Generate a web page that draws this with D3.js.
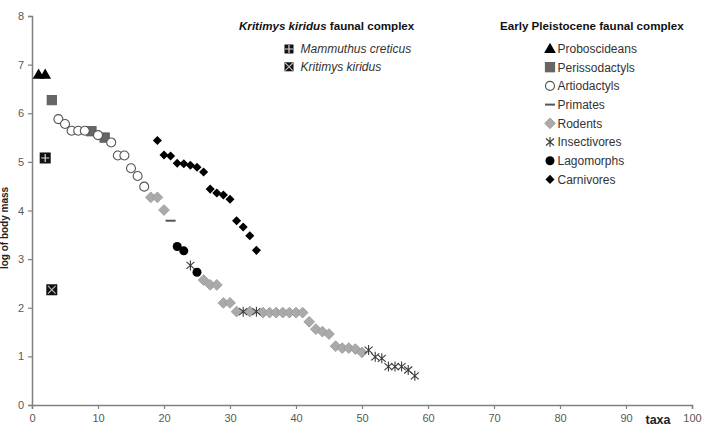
<!DOCTYPE html>
<html><head><meta charset="utf-8">
<script src="https://cdn.jsdelivr.net/npm/d3@7"></script>
<style>body{margin:0;background:#fff;} svg{display:block;font-family:"Liberation Sans",Arial,sans-serif;}</style>
</head><body><svg id="c" width="702" height="431"></svg>
<script>
// ---- data ----
const proboscX = [1, 2];
const proboscY = [6.8, 6.8];
const perissoX = [3, 9, 11];
const perissoY = [6.27, 5.63, 5.5];
const artioX = [4, 5, 6, 7, 8, 10, 12, 13, 14, 15, 16, 17];
const artioY = [5.88, 5.78, 5.64, 5.64, 5.64, 5.55, 5.4, 5.13, 5.13, 4.87, 4.71, 4.49];
const primatesX = [21];
const primatesY = [3.79];
const rodentsX = [18, 19, 20, 26, 27, 28, 29, 30, 31, 33, 35, 36, 37, 38, 39, 40, 41, 42, 43, 44, 45, 46, 47, 48, 49, 50];
const rodentsY = [4.27, 4.27, 4.01, 2.57, 2.47, 2.47, 2.1, 2.1, 1.92, 1.92, 1.9, 1.9, 1.9, 1.9, 1.9, 1.9, 1.9, 1.71, 1.56, 1.51, 1.46, 1.21, 1.17, 1.17, 1.15, 1.08];
const insectX = [24, 32, 34, 51, 52, 53, 54, 55, 56, 57, 58];
const insectY = [2.87, 1.92, 1.92, 1.13, 0.99, 0.96, 0.79, 0.79, 0.79, 0.72, 0.6];
const lagoX = [22, 23, 25];
const lagoY = [3.26, 3.17, 2.73];
const carnX = [19, 20, 21, 22, 23, 24, 25, 26, 27, 28, 29, 30, 31, 32, 33, 34];
const carnY = [5.44, 5.14, 5.12, 4.97, 4.96, 4.93, 4.89, 4.79, 4.44, 4.36, 4.32, 4.23, 3.79, 3.66, 3.48, 3.18];
const mammuthusX = [2];
const mammuthusY = [5.08];
const kritimysX = [3];
const kritimysY = [2.37];
const xTicks = [0, 10, 20, 30, 40, 50, 60, 70, 80, 90, 100];
const yTicks = [0, 1, 2, 3, 4, 5, 6, 7, 8];
const kkTitleItalic = "Kritimys kiridus";
const kkTitleRest = " faunal complex";
const kkLabels = ["Mammuthus creticus", "Kritimys kiridus"];
const epTitle = "Early Pleistocene faunal complex";
const epLabels = ["Proboscideans", "Perissodactyls", "Artiodactyls", "Primates", "Rodents", "Insectivores", "Lagomorphs", "Carnivores"];

// ---- chart ----
const svg = d3.select("#c");
const x = d3.scaleLinear().domain([0, 100]).range([32, 692]);
const y = d3.scaleLinear().domain([0, 8]).range([405, 16]);
const axisColor = "#808080", tickText = "#595959";

const xa = svg.append("g").attr("transform", "translate(0,405)")
  .call(d3.axisBottom(x).tickValues(xTicks).tickSize(4).tickPadding(5));
const ya = svg.append("g").attr("transform", "translate(32,0)")
  .call(d3.axisLeft(y).tickValues(yTicks).tickSize(4).tickPadding(4));
[xa, ya].forEach(g => {
  g.select(".domain").attr("stroke", axisColor).attr("stroke-width", 1.5);
  g.selectAll(".tick line").attr("stroke", axisColor).attr("stroke-width", 1.2);
  g.selectAll(".tick text").attr("fill", tickText).attr("font-size", 11)
    .attr("font-family", "Liberation Sans, Arial, sans-serif");
});

svg.append("text").attr("transform", "translate(8,228) rotate(-90)")
  .attr("text-anchor", "middle").attr("font-size", 10).attr("font-weight", "bold")
  .attr("fill", "#222").text("log of body mass");
svg.append("text").attr("x", 658).attr("y", 424).attr("text-anchor", "middle")
  .attr("font-size", 12.5).attr("font-weight", "bold").attr("fill", "#222").text("taxa");

const zip = (xs, ys) => xs.map((v, i) => [v, ys[i]]);

const drawers = {
  triangle: (g) => g.append("path").attr("d", d3.symbol(d3.symbolTriangle, 60)()).attr("fill", "#000").attr("transform", "translate(0,1)"),
  perisso: (g) => g.append("rect").attr("x", -4.7).attr("y", -4.7).attr("width", 9.4).attr("height", 9.4).attr("fill", "#666").attr("stroke", "#555").attr("stroke-width", 0.8),
  artio: (g) => g.append("circle").attr("r", 4.5).attr("fill", "#fff").attr("stroke", "#555").attr("stroke-width", 1.1),
  primate: (g) => g.append("line").attr("x1", -5).attr("x2", 5).attr("stroke", "#555").attr("stroke-width", 2),
  rodent: (g) => g.append("rect").attr("x", -3.8).attr("y", -3.8).attr("width", 7.6).attr("height", 7.6).attr("transform", "rotate(45)").attr("fill", "#aaa").attr("stroke", "#999").attr("stroke-width", 0.8),
  insect: (g) => g.append("path").attr("d", "M0,-5V5M-4,-3.5L4,3.5M-4,3.5L4,-3.5").attr("stroke", "#3a3a3a").attr("stroke-width", 1.1).attr("fill", "none"),
  lago: (g) => g.append("circle").attr("r", 4.5).attr("fill", "#000"),
  carn: (g) => g.append("rect").attr("x", -3.2).attr("y", -3.2).attr("width", 6.4).attr("height", 6.4).attr("transform", "rotate(45)").attr("fill", "#000"),
  mammuthus: (g) => { g.append("rect").attr("x", -5.5).attr("y", -5.5).attr("width", 11).attr("height", 11).attr("fill", "#111");
    g.append("path").attr("d", "M0,-4V4M-4,0H4").attr("stroke", "#ddd").attr("stroke-width", 1.2); },
  kritimys: (g) => { g.append("rect").attr("x", -5.5).attr("y", -5.5).attr("width", 11).attr("height", 11).attr("fill", "#111");
    g.append("path").attr("d", "M-3.8,-3.8L3.8,3.8M-3.8,3.8L3.8,-3.8").attr("stroke", "#bbb").attr("stroke-width", 1.1); }
};

function plot(xs, ys, kind) {
  svg.append("g").selectAll("g").data(zip(xs, ys)).join("g")
    .attr("transform", d => `translate(${x(d[0])},${y(d[1])})`)
    .each(function () { drawers[kind](d3.select(this)); });
}
plot(rodentsX, rodentsY, "rodent");
plot(perissoX, perissoY, "perisso");
plot(artioX, artioY, "artio");
plot(proboscX, proboscY, "triangle");
plot(primatesX, primatesY, "primate");
plot(insectX, insectY, "insect");
plot(lagoX, lagoY, "lago");
plot(carnX, carnY, "carn");
plot(mammuthusX, mammuthusY, "mammuthus");
plot(kritimysX, kritimysY, "kritimys");

// ---- legends ----
const t1 = svg.append("text").attr("x", 239).attr("y", 30).attr("font-size", 11.6).attr("font-weight", "bold").attr("fill", "#111");
t1.append("tspan").attr("font-style", "italic").text(kkTitleItalic);
t1.append("tspan").text(kkTitleRest);
const kkKinds = ["mammuthus", "kritimys"];
kkLabels.forEach((lab, i) => {
  const cy = 49 + i * 17.8;
  const g = svg.append("g").attr("transform", `translate(289,${cy})`);
  drawers[kkKinds[i]](g);
  g.selectAll("rect").attr("x", -4.5).attr("y", -4.5).attr("width", 9).attr("height", 9);
  svg.append("text").attr("x", 300.5).attr("y", cy + 4.3).attr("font-size", 12).attr("font-style", "italic").attr("fill", "#333").text(lab);
});

svg.append("text").attr("x", 500).attr("y", 30).attr("font-size", 11.6).attr("font-weight", "bold").attr("fill", "#111").text(epTitle);
const epKinds = ["triangle", "perisso", "artio", "primate", "rodent", "insect", "lago", "carn"];
epLabels.forEach((lab, i) => {
  const cy = 48.5 + i * 18.7;
  const g = svg.append("g").attr("transform", `translate(550,${cy})`);
  drawers[epKinds[i]](g);
  svg.append("text").attr("x", 557.5).attr("y", cy + 4.3).attr("font-size", 12).attr("fill", "#333").text(lab);
});
</script></body></html>
